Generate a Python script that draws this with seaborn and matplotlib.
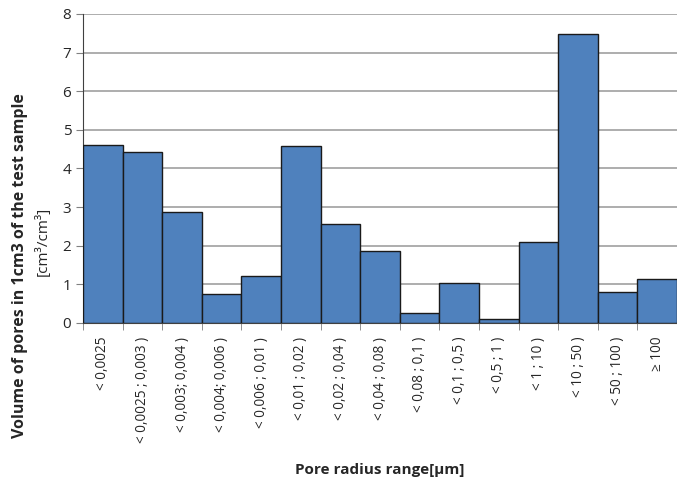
import pandas as pd
import seaborn as sns
import matplotlib.pyplot as plt
import numpy as np

# pore radius ranges and volumes
ranges = ['< 0,0025', '< 0,0025 ; 0,003 )', '< 0,003; 0,004 )', '< 0,004; 0,006 )',
          '< 0,006 ; 0,01 )', '< 0,01 ; 0,02 )', '< 0,02 ; 0,04 )', '< 0,04 ; 0,08 )',
          '< 0,08 ; 0,1 )', '< 0,1 ; 0,5 )', '< 0,5 ; 1 )', '< 1 ; 10 )',
          '< 10 ; 50 )', '< 50 ; 100 )', '\u2265 100']
volumes = [4.6, 4.43, 2.88, 0.75, 1.21, 4.57, 2.56, 1.87, 0.25, 1.03, 0.1, 2.1, 7.48, 0.8, 1.15]

df = pd.DataFrame({'range': ranges, 'volume': volumes})

sns.set_style('white')
plt.rcParams['font.family'] = ['Open Sans', 'DejaVu Sans']

fig = plt.figure(figsize=(6.77, 4.82), dpi=100)
ax = fig.add_axes([0.1226, 0.33, 0.8774, 0.641])

sns.barplot(data=df, x='range', y='volume', color='#4F81BD', saturation=1,
            width=1.0, edgecolor='#1a1a1a', linewidth=1.0, ax=ax, zorder=3)

ax.set_ylim(0, 8)
ax.set_xlim(-0.5, len(ranges) - 0.5)
ax.set_yticks(range(0, 9))
ax.yaxis.grid(True, color='#a0a0a0', linewidth=1.2, zorder=0)
ax.set_axisbelow(True)

for s in ['top', 'right']:
    ax.spines[s].set_visible(False)
ax.spines['left'].set_color('#404040')
ax.spines['bottom'].set_color('#404040')

ax.set_xticks(range(len(ranges)))
ax.set_xticklabels(ranges, rotation=90, fontsize=9.8, va='top')
ax.tick_params(axis='x', length=0, pad=10)
ax.set_xticks(np.arange(-0.5, len(ranges) + 0.5, 1), minor=True)
ax.tick_params(axis='x', which='minor', length=5, color='#808080', direction='out', bottom=True)
ax.tick_params(axis='y', length=5, color='#808080', direction='out', left=True, labelsize=11)

ax.set_xlabel('Pore radius range[\u00b5m]', fontsize=11, fontweight='bold', labelpad=14)
ax.set_ylabel('')
fig.text(0.029, 0.45, 'Volume of pores in 1cm3 of the test sample', rotation=90,
         ha='center', va='center', fontsize=11.5, fontweight='bold')
fig.text(0.063, 0.50, '[cm\u00b3/cm\u00b3]', rotation=90,
         ha='center', va='center', fontsize=11)

fig.savefig('out.png', dpi=100)
